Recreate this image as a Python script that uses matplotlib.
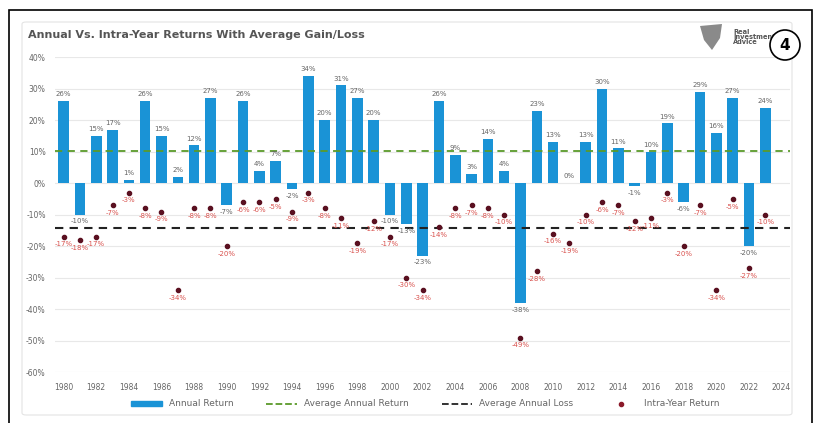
import numpy as np
import matplotlib
matplotlib.use('Agg')
import matplotlib.pyplot as plt
from matplotlib.patches import Rectangle, FancyBboxPatch, Ellipse, Polygon
from matplotlib.lines import Line2D

years = list(range(1980, 2024))
annual = [26, -10, 15, 17, 1, 26, 15, 2, 12, 27,
          -7, 26, 4, 7, -2, 34, 20, 31, 27, 20,
          -10, -13, -23, 26, 9, 3, 14, 4, -38, 23,
          13, 0, 13, 30, 11, -1, 10, 19, -6, 29,
          16, 27, -20, 24]
intra = [-17, -18, -17, -7, -3, -8, -9, -34, -8, -8,
         -20, -6, -6, -5, -9, -3, -8, -11, -19, -12,
         -17, -30, -34, -14, -8, -7, -8, -10, -49, -28,
         -16, -19, -10, -6, -7, -12, -11, -3, -20, -7,
         -34, -5, -27, -10]
xticks = list(range(1980, 2025, 2))

avg_gain = np.mean(annual)
avg_loss = np.mean(intra)

blue = '#1a93d6'
red = '#d9534f'
gray_txt = '#666666'

fig = plt.figure(figsize=(8.15, 4.23), dpi=100)

# outer frame and inner panel
fig.patches.append(Rectangle((9/815, -0.01), 803/815, 1 - 10/423 + 0.01, transform=fig.transFigure,
                             fill=False, edgecolor='black', linewidth=1.2, zorder=10))
fig.patches.append(FancyBboxPatch((22/815, 8/423), 770/815, 1 - 30/423, transform=fig.transFigure,
                                  boxstyle='round,pad=0,rounding_size=0.005',
                                  facecolor='white', edgecolor='#e4e4e4', linewidth=0.8, zorder=-10))

ax = fig.add_axes([0.068, 0.12, 0.901, 0.745])
ax.patch.set_alpha(0)
ax.set_xlim(1979.5, 2024.5)
ax.set_ylim(-60, 40)

ax.bar(years, annual, width=0.65, color=blue, zorder=2)
ax.axhline(avg_gain, color='#5a9a2a', linestyle='--', linewidth=1.3, dashes=(4, 3), zorder=3)
ax.axhline(avg_loss, color='#222222', linestyle='--', linewidth=1.5, dashes=(4, 3), zorder=3)
ax.scatter(years, intra, s=9, color='#5a1020', zorder=4)

for x, v in zip(years, annual):
    if v >= 0:
        ax.text(x, v + 1.2, '%d%%' % v, ha='center', va='bottom', fontsize=5, color=gray_txt, zorder=5)
    else:
        ax.text(x, v - 1.2, '%d%%' % v, ha='center', va='top', fontsize=5, color=gray_txt, zorder=5)

for x, v in zip(years, intra):
    ax.text(x, v - 1.5, '%d%%' % v, ha='center', va='top', fontsize=5, color=red, zorder=5)

ax.set_yticks(range(-60, 41, 10))
ax.set_yticklabels(['%d%%' % t for t in range(-60, 41, 10)])
ax.set_xticks(xticks)
ax.tick_params(axis='both', length=0, labelsize=5.5, colors=gray_txt)
ax.tick_params(axis='y', pad=7)
ax.tick_params(axis='x', pad=8)
ax.grid(axis='y', color='#e8e8e8', linewidth=0.8, zorder=0)
for s in ax.spines.values():
    s.set_visible(False)

handles = [Rectangle((0, 0), 1, 1, color=blue),
           Line2D([], [], color='#5a9a2a', linestyle='--', linewidth=1.3),
           Line2D([], [], color='#222222', linestyle='--', linewidth=1.3),
           Line2D([], [], color='#8b1a2a', marker='o', markersize=3, linestyle='none')]
labels = ['Annual Return', 'Average Annual Return', 'Average Annual Loss', 'Intra-Year Return']
fig.legend(handles, labels, loc='center', bbox_to_anchor=(0.522, 0.045), ncol=4, frameon=False,
           fontsize=6.5, labelcolor=gray_txt, handlelength=3.4, columnspacing=3.6, handleheight=0.5)

fig.text(28/815, 1 - 35/423, 'Annual Vs. Intra-Year Returns With Average Gain/Loss',
         fontsize=8, fontweight='bold', color='#555555', va='center')

# logo area
fig.patches.append(Polygon([(700/815, 1 - 26/423), (722/815, 1 - 24/423), (720/815, 1 - 38/423),
                            (712/815, 1 - 50/423), (704/815, 1 - 40/423)], closed=True,
                           transform=fig.transFigure, facecolor='#8a8a8a', edgecolor='none'))
fig.text(733/815, 1 - 37/423, 'Real\nInvestment\nAdvice', fontsize=4.8, fontweight='bold',
         color='#555555', va='center', linespacing=0.9)
fig.patches.append(Ellipse((785/815, 1 - 45/423), 30/815, 30/423, transform=fig.transFigure,
                           facecolor='white', edgecolor='black', linewidth=1.2, zorder=11))
fig.text(785/815, 1 - 45/423, '4', fontsize=11, fontweight='bold', ha='center', va='center', zorder=12)

fig.savefig('out.png', dpi=100)
